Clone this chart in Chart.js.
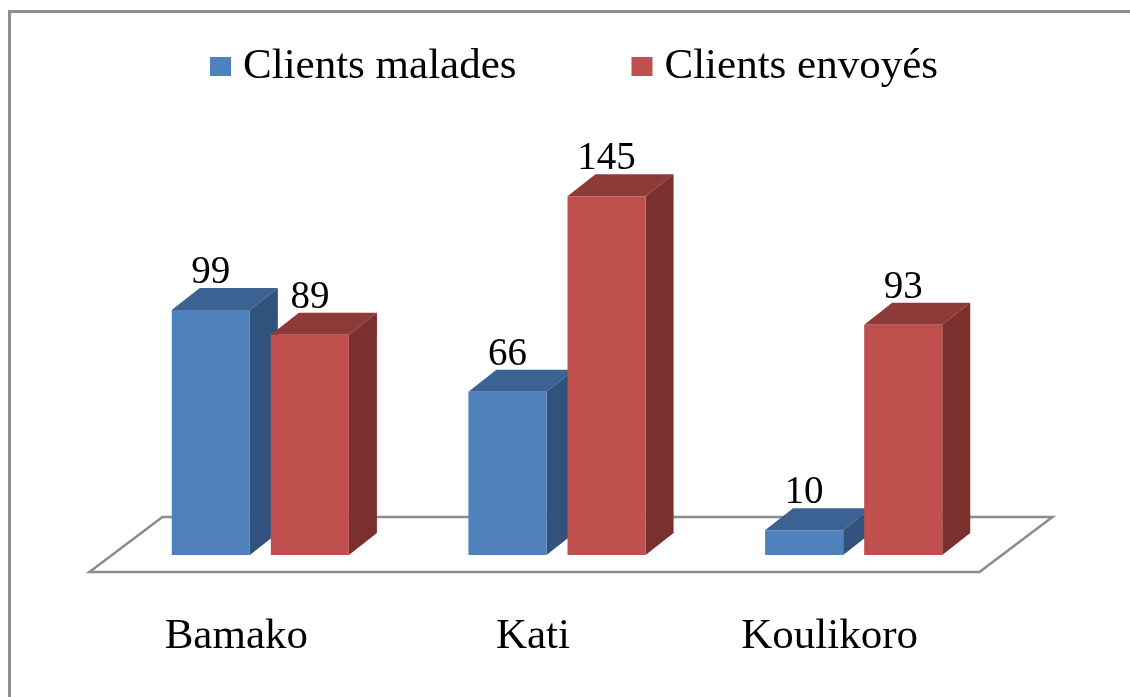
<!DOCTYPE html>
<html>
<head>
<meta charset="utf-8">
<script src="https://cdn.jsdelivr.net/npm/chart.js@4"></script>
<style>
html,body{margin:0;padding:0;background:#fff;}
canvas{display:block;}
</style>
</head>
<body>
<canvas id="chart" width="1130" height="697"></canvas>
<script>
const categories = ["Bamako", "Kati", "Koulikoro"];
const seriesNames = ["Clients malades", "Clients envoyés"];
const malades = [99, 66, 10];
const envoyes = [89, 145, 93];

const faceColors = ['#4f81bd', '#c0504d'];
const topColors = ['#3c6293', '#8e3a38'];
const sideColors = ['#30527d', '#7a302e'];

const FONT = '"Liberation Serif", "Times New Roman", serif';
const DX = 28, DY = 22; // depth of the bars

// frame, floor and the side/top faces, all under the front faces
const boxes = {
  id: 'boxes',
  beforeDraw(chart) {
    const ctx = chart.ctx;
    ctx.save();
    ctx.fillStyle = '#fff';
    ctx.fillRect(0, 0, chart.width, chart.height);
    ctx.strokeStyle = '#8f8f8f';
    ctx.lineWidth = 3;
    ctx.strokeRect(9.5, 11.5, 1300, 900);
    ctx.restore();
  },
  beforeDatasetsDraw(chart) {
    const {ctx, chartArea} = chart;
    const y0 = chart.scales.y.getPixelForValue(0);
    const k = 73 / 55, f = 17, b = 38;
    ctx.save();
    ctx.beginPath();
    ctx.moveTo(chartArea.left - f * k, y0 + f);
    ctx.lineTo(chartArea.right - f * k, y0 + f);
    ctx.lineTo(chartArea.right + b * k, y0 - b);
    ctx.lineTo(chartArea.left + b * k, y0 - b);
    ctx.closePath();
    ctx.fillStyle = '#fff';
    ctx.fill();
    ctx.strokeStyle = '#8c8c8c';
    ctx.lineWidth = 2.5;
    ctx.stroke();

    chart.data.datasets.forEach((ds, i) => {
      chart.getDatasetMeta(i).data.forEach(bar => {
        const l = bar.x - bar.width / 2, r = bar.x + bar.width / 2;
        ctx.fillStyle = topColors[i];
        ctx.beginPath();
        ctx.moveTo(l, bar.y);
        ctx.lineTo(r, bar.y);
        ctx.lineTo(r + DX, bar.y - DY);
        ctx.lineTo(l + DX, bar.y - DY);
        ctx.closePath();
        ctx.fill();
        ctx.fillStyle = sideColors[i];
        ctx.beginPath();
        ctx.moveTo(r, bar.y);
        ctx.lineTo(r + DX, bar.y - DY);
        ctx.lineTo(r + DX, bar.base - DY);
        ctx.lineTo(r, bar.base);
        ctx.closePath();
        ctx.fill();
      });
    });
    ctx.restore();
  },
  afterDatasetsDraw(chart) {
    const ctx = chart.ctx;
    ctx.save();
    ctx.font = '39px ' + FONT;
    ctx.fillStyle = '#000';
    ctx.textAlign = 'center';
    ctx.textBaseline = 'alphabetic';
    chart.data.datasets.forEach((ds, i) => {
      chart.getDatasetMeta(i).data.forEach((bar, j) => {
        ctx.fillText(ds.data[j], bar.x, bar.y - DY - 5);
      });
    });
    ctx.restore();
  },
  afterDraw(chart) {
    // legend
    const ctx = chart.ctx;
    ctx.save();
    ctx.font = '43px ' + FONT;
    ctx.textBaseline = 'alphabetic';
    const items = chart.data.datasets.map(ds => ({
      label: ds.label, color: ds.backgroundColor, w: 21 + 12 + ctx.measureText(ds.label).width
    }));
    const gap = 115;
    const total = items.reduce((s, it) => s + it.w, 0) + gap * (items.length - 1);
    let x = 574 - total / 2;
    items.forEach(it => {
      ctx.fillStyle = it.color;
      ctx.fillRect(x, 57, 21, 19);
      ctx.fillStyle = '#000';
      ctx.fillText(it.label, x + 33, 78);
      x += it.w + gap;
    });
    ctx.restore();
  }
};

new Chart(document.getElementById('chart'), {
  type: 'bar',
  data: {
    labels: categories,
    datasets: [
      { label: seriesNames[0], data: malades, backgroundColor: faceColors[0] },
      { label: seriesNames[1], data: envoyes, backgroundColor: faceColors[1] }
    ]
  },
  options: {
    responsive: false,
    animation: false,
    events: [],
    categoryPercentage: 0.668,
    barPercentage: 0.788,
    layout: { padding: { top: 159, left: 112, right: 128, bottom: 32 } },
    plugins: { legend: { display: false }, tooltip: { enabled: false } },
    scales: {
      y: { display: false, min: 0, max: 160 },
      x: {
        grid: { display: false, drawTicks: false },
        border: { display: false },
        afterFit(scale) { scale.height = 110; },
        ticks: {
          color: '#000',
          font: { family: FONT, size: 43 },
          padding: 56,
          maxRotation: 0,
          minRotation: 0,
          labelOffset: -24
        }
      }
    }
  },
  plugins: [boxes]
});
</script>
</body>
</html>
